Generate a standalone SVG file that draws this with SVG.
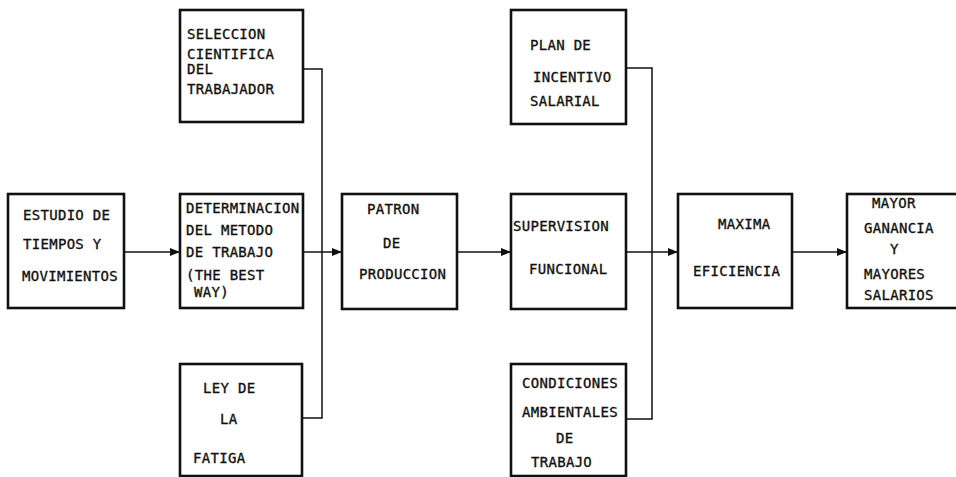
<svg xmlns="http://www.w3.org/2000/svg" width="956" height="477" viewBox="0 0 956 477">
<style>
.box{fill:#fff;stroke:#111;stroke-width:2.6}
.t{font-family:"DejaVu Sans Mono","Liberation Mono",monospace;font-size:14px;fill:#111;stroke:#111;stroke-width:0.35;letter-spacing:0.3px}
.c{fill:none;stroke:#111;stroke-width:1.5}
</style>
<defs>
<marker id="ah" viewBox="0 0 10 8" refX="10" refY="4" markerWidth="10" markerHeight="8" markerUnits="userSpaceOnUse" orient="auto">
<path d="M0,0 L10,4 L0,8 Z" fill="#111"/>
</marker>
</defs>
<rect width="956" height="477" fill="#fff"/>
<g id="connectors">
<line class="c" x1="124" y1="252" x2="180" y2="252" marker-end="url(#ah)"/>
<polyline class="c" points="303,69 322,69 322,418 302,418"/>
<line class="c" x1="303" y1="252" x2="322" y2="252"/>
<line class="c" x1="322" y1="252" x2="342" y2="252" marker-end="url(#ah)"/>
<line class="c" x1="457" y1="252" x2="511" y2="252" marker-end="url(#ah)"/>
<polyline class="c" points="626,68 652,68 652,419 626,419"/>
<line class="c" x1="626" y1="252" x2="652" y2="252"/>
<line class="c" x1="652" y1="252" x2="678" y2="252" marker-end="url(#ah)"/>
<line class="c" x1="792" y1="252" x2="847" y2="252" marker-end="url(#ah)"/>
</g>
<g id="seleccion">
<rect class="box" x="180" y="10" width="123" height="112"/>
<text class="t" x="187" y="39">SELECCION</text>
<text class="t" x="187" y="59">CIENTIFICA</text>
<text class="t" x="187" y="74">DEL</text>
<text class="t" x="187" y="94">TRABAJADOR</text>
</g>
<g id="estudio">
<rect class="box" x="8" y="194" width="116" height="114"/>
<text class="t" x="23" y="220">ESTUDIO DE</text>
<text class="t" x="23" y="249">TIEMPOS Y</text>
<text class="t" x="22" y="281">MOVIMIENTOS</text>
</g>
<g id="determinacion">
<rect class="box" x="180" y="194" width="123" height="114"/>
<text class="t" x="186" y="213">DETERMINACION</text>
<text class="t" x="186" y="235">DEL METODO</text>
<text class="t" x="186" y="257">DE TRABAJO</text>
<text class="t" x="186" y="280">(THE BEST</text>
<text class="t" x="194" y="297">WAY)</text>
</g>
<g id="ley">
<rect class="box" x="180" y="364" width="122" height="112"/>
<text class="t" x="203" y="393">LEY DE</text>
<text class="t" x="220" y="424">LA</text>
<text class="t" x="193" y="463">FATIGA</text>
</g>
<g id="patron">
<rect class="box" x="342" y="194" width="115" height="115"/>
<text class="t" x="367" y="214">PATRON</text>
<text class="t" x="383" y="248">DE</text>
<text class="t" x="359" y="279">PRODUCCION</text>
</g>
<g id="plan">
<rect class="box" x="511" y="10" width="115" height="114"/>
<text class="t" x="530" y="50">PLAN DE</text>
<text class="t" x="533" y="82">INCENTIVO</text>
<text class="t" x="530" y="106">SALARIAL</text>
</g>
<g id="supervision">
<rect class="box" x="511" y="194" width="115" height="115"/>
<text class="t" x="513" y="231">SUPERVISION</text>
<text class="t" x="529" y="274">FUNCIONAL</text>
</g>
<g id="condiciones">
<rect class="box" x="511" y="364" width="115" height="112"/>
<text class="t" x="522" y="388">CONDICIONES</text>
<text class="t" x="522" y="417">AMBIENTALES</text>
<text class="t" x="556" y="443">DE</text>
<text class="t" x="531" y="467">TRABAJO</text>
</g>
<g id="maxima">
<rect class="box" x="678" y="194" width="114" height="114"/>
<text class="t" x="718" y="229">MAXIMA</text>
<text class="t" x="693" y="276">EFICIENCIA</text>
</g>
<g id="mayor">
<rect class="box" x="847" y="194" width="115" height="114"/>
<text class="t" x="872" y="208">MAYOR</text>
<text class="t" x="864" y="233">GANANCIA</text>
<text class="t" x="890" y="254">Y</text>
<text class="t" x="864" y="279">MAYORES</text>
<text class="t" x="864" y="300">SALARIOS</text>
</g>
</svg>
